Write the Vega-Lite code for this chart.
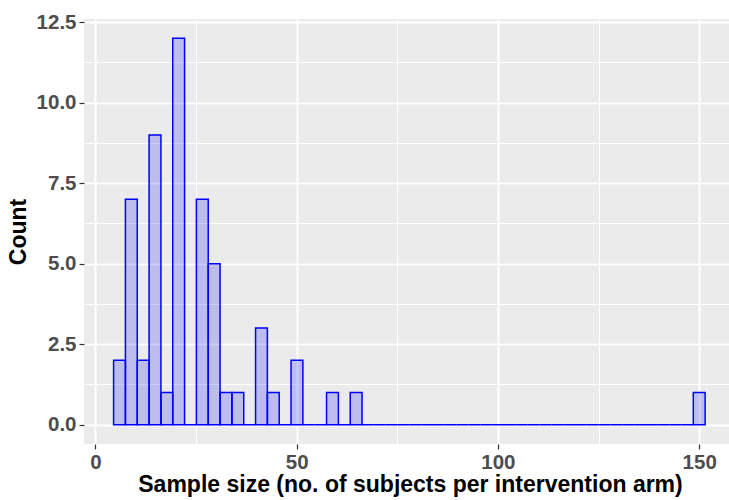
{
  "$schema": "https://vega.github.io/schema/vega-lite/v6.json",
  "width": 645,
  "height": 425,
  "autosize": {"type": "none"},
  "padding": {"left": 84, "top": 19, "right": 0, "bottom": 56},
  "background": "white",
  "data": {
    "values": [
      {"bin_start": 4.53, "bin_end": 7.47, "count": 2},
      {"bin_start": 7.47, "bin_end": 10.41, "count": 7},
      {"bin_start": 10.41, "bin_end": 13.35, "count": 2},
      {"bin_start": 13.35, "bin_end": 16.29, "count": 9},
      {"bin_start": 16.29, "bin_end": 19.22, "count": 1},
      {"bin_start": 19.22, "bin_end": 22.16, "count": 12},
      {"bin_start": 22.16, "bin_end": 25.1, "count": 0},
      {"bin_start": 25.1, "bin_end": 28.04, "count": 7},
      {"bin_start": 28.04, "bin_end": 30.98, "count": 5},
      {"bin_start": 30.98, "bin_end": 33.92, "count": 1},
      {"bin_start": 33.92, "bin_end": 36.86, "count": 1},
      {"bin_start": 36.86, "bin_end": 39.8, "count": 0},
      {"bin_start": 39.8, "bin_end": 42.73, "count": 3},
      {"bin_start": 42.73, "bin_end": 45.67, "count": 1},
      {"bin_start": 45.67, "bin_end": 48.61, "count": 0},
      {"bin_start": 48.61, "bin_end": 51.55, "count": 2},
      {"bin_start": 51.55, "bin_end": 54.49, "count": 0},
      {"bin_start": 54.49, "bin_end": 57.43, "count": 0},
      {"bin_start": 57.43, "bin_end": 60.37, "count": 1},
      {"bin_start": 60.37, "bin_end": 63.31, "count": 0},
      {"bin_start": 63.31, "bin_end": 66.24, "count": 1},
      {"bin_start": 66.24, "bin_end": 69.18, "count": 0},
      {"bin_start": 69.18, "bin_end": 72.12, "count": 0},
      {"bin_start": 72.12, "bin_end": 75.06, "count": 0},
      {"bin_start": 75.06, "bin_end": 78.0, "count": 0},
      {"bin_start": 78.0, "bin_end": 80.94, "count": 0},
      {"bin_start": 80.94, "bin_end": 83.88, "count": 0},
      {"bin_start": 83.88, "bin_end": 86.82, "count": 0},
      {"bin_start": 86.82, "bin_end": 89.76, "count": 0},
      {"bin_start": 89.76, "bin_end": 92.69, "count": 0},
      {"bin_start": 92.69, "bin_end": 95.63, "count": 0},
      {"bin_start": 95.63, "bin_end": 98.57, "count": 0},
      {"bin_start": 98.57, "bin_end": 101.51, "count": 0},
      {"bin_start": 101.51, "bin_end": 104.45, "count": 0},
      {"bin_start": 104.45, "bin_end": 107.39, "count": 0},
      {"bin_start": 107.39, "bin_end": 110.33, "count": 0},
      {"bin_start": 110.33, "bin_end": 113.27, "count": 0},
      {"bin_start": 113.27, "bin_end": 116.2, "count": 0},
      {"bin_start": 116.2, "bin_end": 119.14, "count": 0},
      {"bin_start": 119.14, "bin_end": 122.08, "count": 0},
      {"bin_start": 122.08, "bin_end": 125.02, "count": 0},
      {"bin_start": 125.02, "bin_end": 127.96, "count": 0},
      {"bin_start": 127.96, "bin_end": 130.9, "count": 0},
      {"bin_start": 130.9, "bin_end": 133.84, "count": 0},
      {"bin_start": 133.84, "bin_end": 136.78, "count": 0},
      {"bin_start": 136.78, "bin_end": 139.71, "count": 0},
      {"bin_start": 139.71, "bin_end": 142.65, "count": 0},
      {"bin_start": 142.65, "bin_end": 145.59, "count": 0},
      {"bin_start": 145.59, "bin_end": 148.53, "count": 0},
      {"bin_start": 148.53, "bin_end": 151.47, "count": 1}
    ]
  },
  "mark": {
    "type": "bar",
    "fill": "blue",
    "fillOpacity": 0.2,
    "stroke": "blue",
    "strokeWidth": 1.5,
    "clip": true
  },
  "encoding": {
    "x": {
      "field": "bin_start",
      "type": "quantitative",
      "title": "Sample size (no. of subjects per intervention arm)",
      "scale": {"domain": [-2.82, 157.4], "nice": false, "zero": false},
      "axis": {
        "values": [0, 25, 50, 75, 100, 125, 150],
        "labelExpr": "datum.value % 50 === 0 ? datum.label : ''",
        "gridWidth": {"condition": {"test": "datum.value % 50 === 0", "value": 2}, "value": 1},
        "tickOpacity": {"condition": {"test": "datum.value % 50 === 0", "value": 1}, "value": 0},
        "titleX": 326
      }
    },
    "x2": {"field": "bin_end"},
    "y": {
      "field": "count",
      "type": "quantitative",
      "title": "Count",
      "scale": {"domain": [-0.6, 12.6], "nice": false, "zero": false},
      "axis": {
        "values": [0, 1.25, 2.5, 3.75, 5, 6.25, 7.5, 8.75, 10, 11.25, 12.5],
        "format": ".1f",
        "labelExpr": "datum.value % 2.5 === 0 ? datum.label : ''",
        "gridWidth": {"condition": {"test": "datum.value % 2.5 === 0", "value": 2}, "value": 1},
        "tickOpacity": {"condition": {"test": "datum.value % 2.5 === 0", "value": 1}, "value": 0},
        "titlePadding": 6
      }
    },
    "y2": {"datum": 0}
  },
  "config": {
    "view": {"fill": "#EBEBEB", "stroke": null},
    "font": "Liberation Sans",
    "axis": {
      "domain": false,
      "gridColor": "white",
      "tickColor": "#333333",
      "tickSize": 5,
      "tickWidth": 1.2,
      "labelFont": "Liberation Sans",
      "labelFontSize": 20.5,
      "labelFontWeight": "bold",
      "labelColor": "#4D4D4D",
      "labelPadding": 3,
      "titleFont": "Liberation Sans",
      "titleFontSize": 23,
      "titleFontWeight": "bold",
      "titleColor": "black"
    },
    "axisX": {"titlePadding": 1}
  }
}
